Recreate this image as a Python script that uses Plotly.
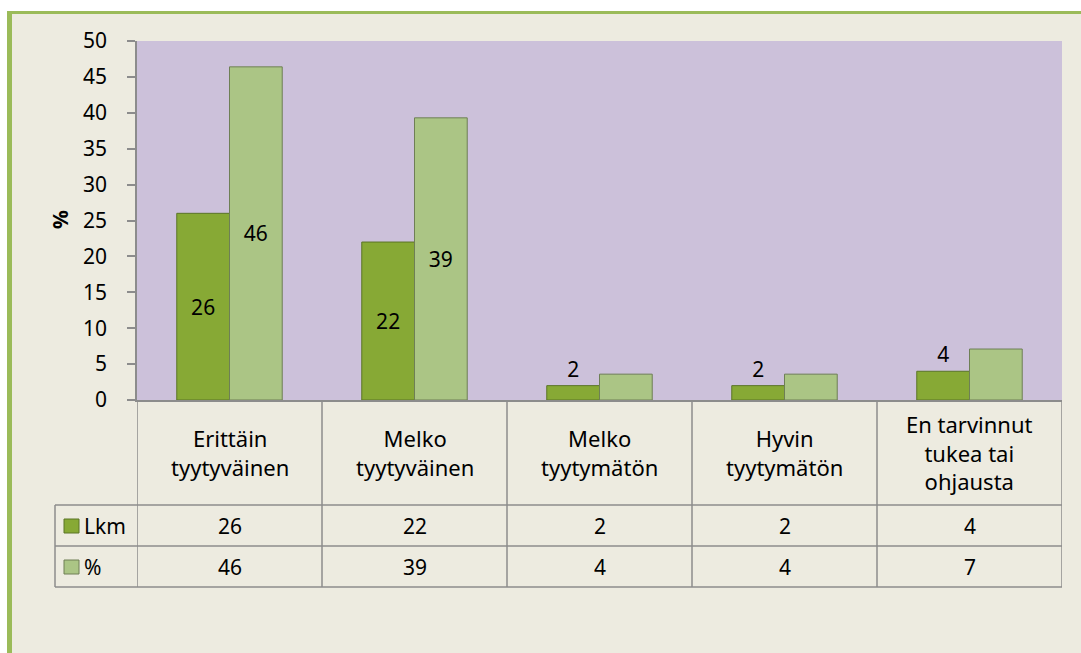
import plotly.graph_objects as go

categories = ["Erittäin<br>tyytyväinen", "Melko<br>tyytyväinen", "Melko<br>tyytymätön",
              "Hyvin<br>tyytymätön", "En tarvinnut<br>tukea tai<br>ohjausta"]
lkm = [26, 22, 2, 2, 4]
pct = [46.4, 39.3, 3.6, 3.6, 7.1]
lkm_table = ["26", "22", "2", "2", "4"]
pct_table = ["46", "39", "4", "4", "7"]
lkm_labels = ["26", "22", "2", "2", "4"]
pct_labels = ["46", "39", "", "", ""]
series_names = ["Lkm", "%"]
yticks = list(range(0, 51, 5))

W, H = 1081, 653
L, R, T, B = 137, 1062, 41, 400
FONT = "Noto Sans"
GREY = "#8C8C8C"
C_LKM = "#87A935"
C_PCT = "#ABC585"


def px(p):
    return (p - L) / (R - L)


def py(p):
    return (B - p) / (B - T)


xs = list(range(len(categories)))

fig = go.Figure()
fig.add_trace(go.Bar(
    x=xs, y=lkm, name=series_names[0], text=lkm_labels,
    textposition=["inside", "inside", "outside", "outside", "outside"],
    insidetextanchor="middle",
    textfont=dict(family=FONT, size=21, color="black"),
    marker=dict(color=C_LKM, line=dict(color="#5A7526", width=1)),
    cliponaxis=False,
))
fig.add_trace(go.Bar(
    x=xs, y=pct, name=series_names[1], text=pct_labels,
    textposition="inside", insidetextanchor="middle",
    textfont=dict(family=FONT, size=21, color="black"),
    marker=dict(color=C_PCT, line=dict(color="#6E7F55", width=1)),
    cliponaxis=False,
))

shapes = []
# white strip outside the chart frame and green border
shapes.append(dict(type="rect", xref="paper", yref="paper", x0=px(-5), x1=px(W + 5),
                   y0=py(-5), y1=py(11), fillcolor="white", line=dict(width=0), layer="below"))
shapes.append(dict(type="rect", xref="paper", yref="paper", x0=px(-5), x1=px(7),
                   y0=py(-5), y1=py(H + 5), fillcolor="white", line=dict(width=0), layer="below"))
shapes.append(dict(type="rect", xref="paper", yref="paper", x0=px(7), x1=px(W + 5),
                   y0=py(11), y1=py(14), fillcolor="#9BBB59", line=dict(width=0), layer="below"))
shapes.append(dict(type="rect", xref="paper", yref="paper", x0=px(7), x1=px(12),
                   y0=py(11), y1=py(H + 5), fillcolor="#9BBB59", line=dict(width=0), layer="below"))

# data table grid
ROW_TOP, ROW1, ROW2, ROW3 = 400, 505, 546, 587
LEFT_COL = 55
line = dict(color=GREY, width=1.5)
for i in range(len(categories) + 1):
    shapes.append(dict(type="line", xref="x", yref="paper", x0=i - 0.5, x1=i - 0.5,
                       y0=py(ROW_TOP), y1=py(ROW3), line=line))
shapes.append(dict(type="line", xref="paper", yref="paper", x0=px(LEFT_COL), x1=px(LEFT_COL),
                   y0=py(ROW1), y1=py(ROW3), line=line))
for yy in (ROW1, ROW2, ROW3):
    shapes.append(dict(type="line", xref="paper", yref="paper", x0=px(LEFT_COL), x1=1,
                       y0=py(yy), y1=py(yy), line=line))
# legend keys
for yy, col, lc in ((526, C_LKM, "#5A7526"), (567, C_PCT, "#6E7F55")):
    shapes.append(dict(type="rect", xref="paper", yref="paper", x0=px(64), x1=px(79),
                       y0=py(yy + 7), y1=py(yy - 7), fillcolor=col, line=dict(color=lc, width=1)))

annotations = []
for i, c in enumerate(categories):
    annotations.append(dict(x=i, y=py((ROW_TOP + ROW1) / 2), xref="x", yref="paper", text=c,
                            showarrow=False, font=dict(family=FONT, size=22, color="black"),
                            align="center", xanchor="center", yanchor="middle"))
    annotations.append(dict(x=i, y=py((ROW1 + ROW2) / 2), xref="x", yref="paper", text=lkm_table[i],
                            showarrow=False, xanchor="center", yanchor="middle",
                            font=dict(family=FONT, size=21, color="black")))
    annotations.append(dict(x=i, y=py((ROW2 + ROW3) / 2), xref="x", yref="paper", text=pct_table[i],
                            showarrow=False, xanchor="center", yanchor="middle",
                            font=dict(family=FONT, size=21, color="black")))
for yy, name in ((526, series_names[0]), (567, series_names[1])):
    annotations.append(dict(x=px(82), y=py(yy), xref="paper", yref="paper", text=name,
                            xanchor="left", yanchor="middle", showarrow=False,
                            font=dict(family=FONT, size=21, color="black")))
annotations.append(dict(x=px(60), y=py(220), xref="paper", yref="paper", text="<b>%</b>",
                        textangle=-90, showarrow=False, xanchor="center", yanchor="middle",
                        font=dict(family=FONT, size=21, color="black")))

fig.update_layout(
    width=W, height=H,
    margin=dict(l=L, r=W - R, t=T, b=H - B, pad=0),
    paper_bgcolor="#EDEBE0", plot_bgcolor="#CCC1DA",
    barmode="group", bargap=0.43, bargroupgap=0,
    showlegend=False,
    shapes=shapes, annotations=annotations,
    xaxis=dict(range=[-0.5, len(categories) - 0.5], showticklabels=False, ticks="",
               showgrid=False, zeroline=False, showline=True, linecolor=GREY, linewidth=1.5),
    yaxis=dict(range=[0, 50], tickvals=yticks, ticks="outside", ticklen=8, tickcolor=GREY,
               tickwidth=1.5, showgrid=False, zeroline=False, showline=True, linecolor=GREY,
               linewidth=1.5, ticklabelstandoff=16,
               tickfont=dict(family=FONT, size=21, color="black")),
)

fig.write_html("out.html", config={"displayModeBar": False},
               post_script="document.body.style.margin='0';")
